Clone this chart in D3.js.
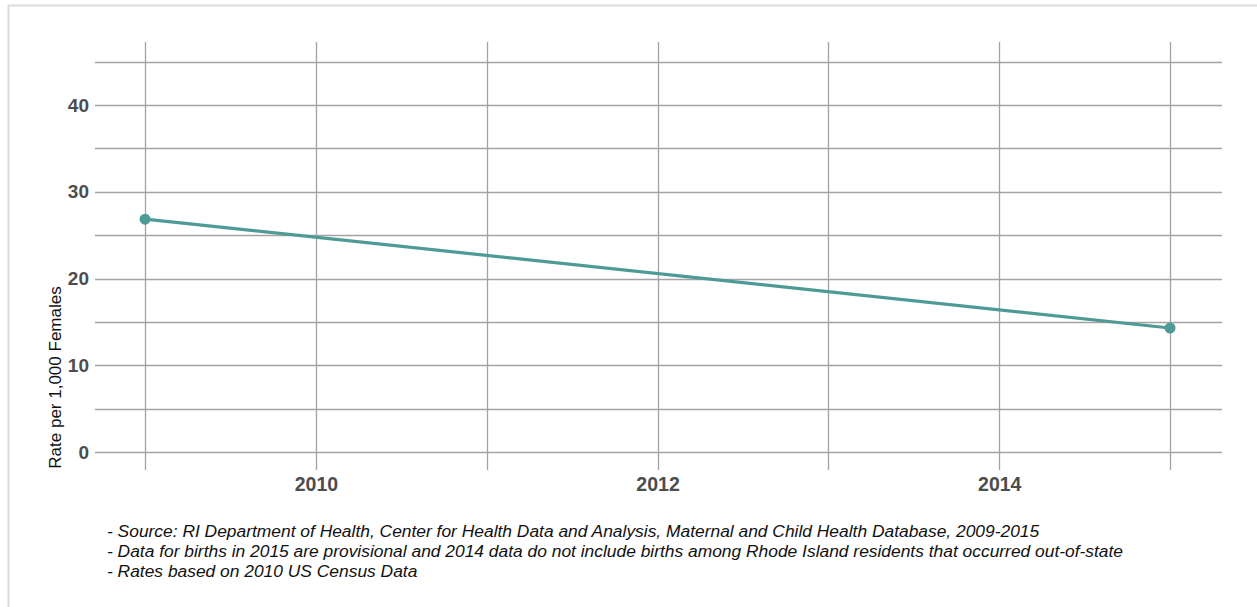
<!DOCTYPE html>
<html>
<head>
<meta charset="utf-8">
<script src="https://cdn.jsdelivr.net/npm/d3@7"></script>
<style>
  html, body { margin: 0; padding: 0; background: #fff; }
  svg { display: block; }
</style>
</head>
<body>
<svg id="chart" width="1257" height="607"></svg>
<script>
// Teen birth rate, endpoints of the 2009-2015 period
const years = [2009, 2015];
const rates = [26.85, 14.3];

const yMajorTicks = [0, 10, 20, 30, 40];
const yMinorTicks = [5, 15, 25, 35, 45];
const xMajorTicks = [2010, 2012, 2014];
const xAllYears = [2009, 2010, 2011, 2012, 2013, 2014, 2015];

const yTitle = "Rate per 1,000 Females";
const notes = [
  "- Source: RI Department of Health, Center for Health Data and Analysis, Maternal and Child Health Database, 2009-2015",
  "- Data for births in 2015 are provisional and 2014 data do not include births among Rhode Island residents that occurred out-of-state",
  "- Rates based on 2010 US Census Data"
];

const FONT = "'Liberation Sans', Arial, sans-serif";
const svg = d3.select("#chart");

// light frame along the top and left edges
svg.append("line").attr("x1", 8).attr("x2", 1257).attr("y1", 5.5).attr("y2", 5.5)
  .attr("stroke", "#dcdcdc").attr("stroke-width", 2);
svg.append("line").attr("x1", 8.5).attr("x2", 8.5).attr("y1", 5).attr("y2", 607)
  .attr("stroke", "#dcdcdc").attr("stroke-width", 2);

const plot = { left: 95, right: 1222, top: 42, bottom: 470 };

const x = d3.scaleLinear()
  .domain([2008.707, 2015.304])
  .range([plot.left, plot.right]);
const y = d3.scaleLinear()
  .domain([-2.07, 47.27])
  .range([plot.bottom, plot.top]);

const gridColor = "#a3a3a3";

// horizontal grid
svg.append("g").selectAll("line")
  .data(yMajorTicks.concat(yMinorTicks))
  .join("line")
  .attr("x1", plot.left).attr("x2", plot.right)
  .attr("y1", d => Math.round(y(d)) + 0.5).attr("y2", d => Math.round(y(d)) + 0.5)
  .attr("stroke", gridColor).attr("stroke-width", 1.3);

// vertical grid
svg.append("g").selectAll("line")
  .data(xAllYears)
  .join("line")
  .attr("x1", d => Math.round(x(d)) + 0.5).attr("x2", d => Math.round(x(d)) + 0.5)
  .attr("y1", plot.top).attr("y2", plot.bottom)
  .attr("stroke", gridColor).attr("stroke-width", 1.3);

// y axis labels
const yAxis = d3.axisLeft(y).tickValues(yMajorTicks).tickSize(0).tickPadding(6);
const gy = svg.append("g").attr("transform", `translate(${plot.left},0)`).call(yAxis);
gy.select(".domain").remove();
gy.selectAll("text")
  .attr("font-family", FONT)
  .attr("font-size", 19).attr("font-weight", "bold").attr("fill", "#4d4d4d");

// x axis labels
const xAxis = d3.axisBottom(x).tickValues(xMajorTicks).tickFormat(d3.format("d")).tickSize(0).tickPadding(7);
const gx = svg.append("g").attr("transform", `translate(0,${plot.bottom})`).call(xAxis);
gx.select(".domain").remove();
gx.selectAll("text")
  .attr("font-family", FONT)
  .attr("font-size", 19.5).attr("font-weight", "bold").attr("fill", "#4d4d4d");

// y axis title
svg.append("text")
  .attr("transform", "translate(61,377.5) rotate(-90)")
  .attr("text-anchor", "middle")
  .attr("font-family", FONT)
  .attr("font-size", 17).attr("fill", "#111")
  .text(yTitle);

// series
const data = years.map((yr, i) => ({ year: yr, rate: rates[i] }));
const lineColor = "#4e9a97";
svg.append("path")
  .datum(data)
  .attr("fill", "none")
  .attr("stroke", lineColor)
  .attr("stroke-width", 3.2)
  .attr("d", d3.line().x(d => x(d.year)).y(d => y(d.rate)));
svg.append("g").selectAll("circle")
  .data(data)
  .join("circle")
  .attr("cx", d => x(d.year)).attr("cy", d => y(d.rate))
  .attr("r", 5.5).attr("fill", lineColor);

// footnotes
svg.append("g").selectAll("text")
  .data(notes)
  .join("text")
  .attr("x", 107)
  .attr("y", (d, i) => 537 + i * 20)
  .attr("font-family", FONT)
  .attr("font-style", "italic")
  .attr("font-size", 17.4).attr("fill", "#111")
  .text(d => d);
</script>
</body>
</html>
